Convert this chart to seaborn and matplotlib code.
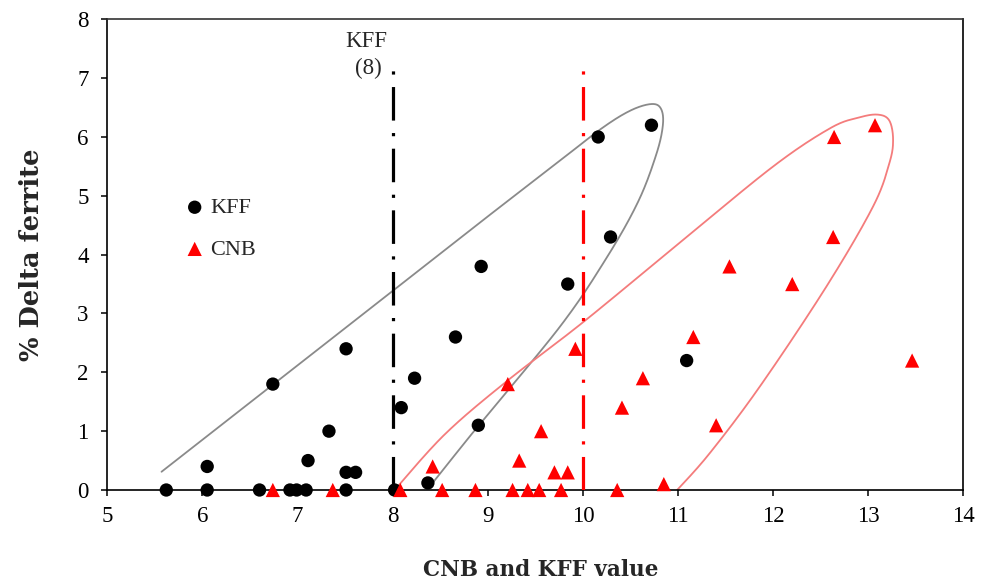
import numpy as np
import pandas as pd
import matplotlib
matplotlib.use("Agg")
import matplotlib.pyplot as plt
import seaborn as sns

# ---------------- data ----------------
kff_x = [5.62, 6.05, 6.05, 6.60, 6.92, 6.99, 7.09, 7.11, 7.33, 7.51, 7.61, 7.51,
         6.74, 8.09, 8.23, 8.02, 8.37, 7.51, 8.66, 8.90, 8.93, 9.84, 10.16,
         10.29, 10.72, 11.09]
kff_y = [0.0, 0.4, 0.0, 0.0, 0.0, 0.0, 0.0, 0.5, 1.0, 0.3, 0.3, 0.0,
         1.8, 1.4, 1.9, 0.0, 0.12, 2.4, 2.6, 1.1, 3.8, 3.5, 6.0,
         4.3, 6.2, 2.2]

cnb_x = [6.74, 7.37, 8.08, 8.42, 8.52, 8.87, 9.26, 9.42, 9.54, 9.77, 10.36,
         9.33, 9.70, 9.84, 9.56, 9.21, 9.92, 10.41, 10.63, 10.85, 11.16,
         11.40, 11.54, 12.20, 12.64, 12.63, 13.07, 13.46]
cnb_y = [0.0, 0.0, 0.0, 0.4, 0.0, 0.0, 0.0, 0.0, 0.0, 0.0, 0.0,
         0.5, 0.3, 0.3, 1.0, 1.8, 2.4, 1.4, 1.9, 0.1, 2.6,
         1.1, 3.8, 3.5, 6.0, 4.3, 6.2, 2.2]

# hand-drawn envelope outlines (control points, data units)
kff_env_x = [5.57, 6.67, 7.87, 9.00, 9.76, 10.20, 10.50, 10.72, 10.82, 10.84,
             10.77, 10.58, 10.25, 9.76, 8.90, 8.41]
kff_env_y = [0.31, 1.70, 3.22, 4.65, 5.60, 6.15, 6.45, 6.56, 6.48, 6.20,
             5.70, 4.90, 3.95, 2.78, 1.09, 0.10]

cnb_env_x = [8.02, 8.55, 9.20, 10.00, 11.00, 12.00, 12.60, 12.90, 13.10, 13.22,
             13.26, 13.22, 13.05, 12.56, 11.86, 11.33, 10.99]
cnb_env_y = [0.00, 0.95, 1.85, 2.85, 4.18, 5.50, 6.15, 6.33, 6.38, 6.28,
             5.95, 5.55, 4.82, 3.46, 1.76, 0.62, 0.00]

limit_kff = 8
limit_cnb = 10
limit_top = 7.25

x_ticks = [5, 6, 7, 8, 9, 10, 11, 12, 13, 14]
y_ticks = [0, 1, 2, 3, 4, 5, 6, 7, 8]


def catmull_rom(xs, ys, n=30):
    p = np.column_stack([xs, ys]).astype(float)
    p = np.vstack([p[0], p, p[-1]])
    out = []
    t = np.linspace(0, 1, n, endpoint=False)[:, None]
    for i in range(1, len(p) - 2):
        p0, p1, p2, p3 = p[i - 1], p[i], p[i + 1], p[i + 2]
        seg = 0.5 * ((2 * p1) + (-p0 + p2) * t +
                     (2 * p0 - 5 * p1 + 4 * p2 - p3) * t ** 2 +
                     (-p0 + 3 * p1 - 3 * p2 + p3) * t ** 3)
        out.append(seg)
    out.append(p[-2][None, :])
    out = np.vstack(out)
    return out[:, 0], out[:, 1]


sns.set_style("white")
serif = ["Liberation Serif", "DejaVu Serif"]
label_font = ["DejaVu Serif", "Liberation Serif"]
plt.rcParams["font.family"] = serif

fig = plt.figure(figsize=(9.89, 5.85), dpi=100)
ax = fig.add_axes([0.1085, 0.1624, 0.8657, 0.8046])

df_k = pd.DataFrame({"value": kff_x, "ferrite": kff_y})
df_c = pd.DataFrame({"value": cnb_x, "ferrite": cnb_y})

# envelopes
ex, ey = catmull_rom(kff_env_x, kff_env_y)
ax.plot(ex, ey, color="#8a8a8a", lw=1.3, zorder=2)
ex, ey = catmull_rom(cnb_env_x, cnb_env_y)
ax.plot(ex, ey, color="#f47c7c", lw=1.3, zorder=2)

# limit lines
ls = (0, (10.5, 3.9, 1.0, 3.9))
ax.plot([limit_kff, limit_kff], [0, limit_top], color="black", lw=2.3,
        linestyle=ls, zorder=3)
ax.plot([limit_cnb, limit_cnb], [0, limit_top], color="#ff0000", lw=2.3,
        linestyle=ls, zorder=3)

sns.scatterplot(data=df_k, x="value", y="ferrite", color="black", marker="o",
                s=92, edgecolor="none", ax=ax, label="KFF", zorder=4,
                clip_on=False)
sns.scatterplot(data=df_c, x="value", y="ferrite", color="#ff0000", marker="^",
                s=105, edgecolor="none", ax=ax, label="CNB", zorder=5,
                clip_on=False)

ax.text(7.72, 7.63, "KFF", ha="center", va="center", fontsize=16.5)
ax.text(7.74, 7.16, "(8)", ha="center", va="center", fontsize=16.5)

ax.set_xlim(5, 14)
ax.set_ylim(0, 8)
ax.set_xticks(x_ticks)
ax.set_yticks(y_ticks)
ax.set_xticklabels([str(v) for v in x_ticks])
ax.set_yticklabels([str(v) for v in y_ticks])
ax.tick_params(axis="both", which="major", direction="out", length=4.5,
               width=1.1, colors="black", labelsize=16.5, bottom=True, left=True)
ax.tick_params(axis="x", pad=7)
ax.tick_params(axis="y", pad=9)

for side in ["left", "bottom", "top", "right"]:
    ax.spines[side].set_visible(True)
    ax.spines[side].set_color("black")
    ax.spines[side].set_linewidth(1.2)
ax.spines["top"].set_color("#333333")

ax.set_xlabel("CNB and KFF value", fontsize=15.5, fontweight="bold",
              family=label_font)
ax.set_ylabel("% Delta ferrite", fontsize=18.5, fontweight="bold",
              family=label_font)
ax.xaxis.label.set_va("center")
ax.xaxis.set_label_coords(0.506, -0.170)
ax.yaxis.label.set_va("center")
ax.yaxis.label.set_ha("center")
ax.yaxis.set_label_coords(-0.088, 0.50)

leg = ax.legend(loc="upper left", bbox_to_anchor=(0.08, 0.645), frameon=False,
                fontsize=16, handlelength=0.7, handletextpad=0.35,
                labelspacing=0.95, markerscale=1.0, borderpad=0)

fig.savefig("out.png", dpi=100)
